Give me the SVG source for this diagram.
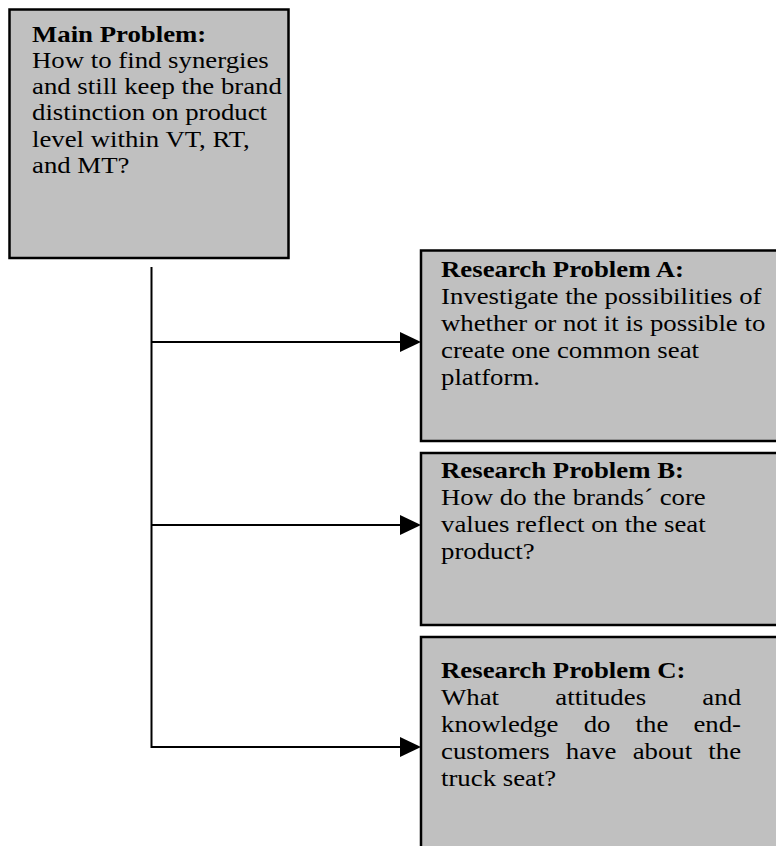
<svg xmlns="http://www.w3.org/2000/svg" width="776" height="846" viewBox="0 0 776 846">
<style>
.box{fill:#c0c0c0;stroke:#000;stroke-width:2.5}
.t{font-family:"Liberation Serif","Times New Roman",serif;font-size:23.5px;fill:#000}
.b{font-weight:bold}
.ln{stroke:#000;stroke-width:2;fill:none}
.ah{fill:#000}
</style>
<rect width="776" height="846" fill="#fff"/>
<g id="main">
<rect class="box" x="9.5" y="9.5" width="279" height="248.5"/>
<g transform="translate(32,0) scale(1.14,1)">
<text class="t b" x="0" y="42">Main Problem:</text>
<text class="t" x="0" y="68">How to find synergies</text>
<text class="t" x="0" y="94.5">and still keep the brand</text>
<text class="t" x="0" y="120.5">distinction on product</text>
<text class="t" x="0" y="147">level within VT, RT,</text>
<text class="t" x="0" y="173">and MT?</text>
</g>
</g>
<g id="rpA">
<rect class="box" x="421" y="250.5" width="380" height="190.5"/>
<g transform="translate(441,0) scale(1.14,1)">
<text class="t b" x="0" y="277">Research Problem A:</text>
<text class="t" x="0" y="304">Investigate the possibilities of</text>
<text class="t" x="0" y="331">whether or not it is possible to</text>
<text class="t" x="0" y="358">create one common seat</text>
<text class="t" x="0" y="385">platform.</text>
</g>
</g>
<g id="rpB">
<rect class="box" x="421" y="453" width="380" height="172"/>
<g transform="translate(441,0) scale(1.14,1)">
<text class="t b" x="0" y="478">Research Problem B:</text>
<text class="t" x="0" y="505">How do the brands´ core</text>
<text class="t" x="0" y="532">values reflect on the seat</text>
<text class="t" x="0" y="559">product?</text>
</g>
</g>
<g id="rpC">
<rect class="box" x="421" y="637" width="380" height="230"/>
<g transform="translate(441,0) scale(1.14,1)">
<text class="t b" x="0" y="678">Research Problem C:</text>
<text class="t" y="705"><tspan x="0">What</tspan><tspan x="100.3">attitudes</tspan><tspan x="263.2" text-anchor="end">and</tspan></text>
<text class="t" y="732"><tspan x="0">knowledge</tspan><tspan x="125.2">do</tspan><tspan x="170.7">the</tspan><tspan x="263.2" text-anchor="end">end-</tspan></text>
<text class="t" y="759"><tspan x="0">customers</tspan><tspan x="109.5">have</tspan><tspan x="168.1">about</tspan><tspan x="263.2" text-anchor="end">the</tspan></text>
<text class="t" x="0" y="786">truck seat?</text>
</g>
</g>
<g id="connectors">
<line class="ln" x1="151.5" y1="267" x2="151.5" y2="748"/>
<line class="ln" x1="151.5" y1="342" x2="402" y2="342"/>
<polygon class="ah" points="400,332 421,342 400,352"/>
<line class="ln" x1="151.5" y1="525" x2="402" y2="525"/>
<polygon class="ah" points="400,515 421,525 400,535"/>
<line class="ln" x1="151.5" y1="747" x2="402" y2="747"/>
<polygon class="ah" points="400,737 421,747 400,757"/>
</g>
</svg>
